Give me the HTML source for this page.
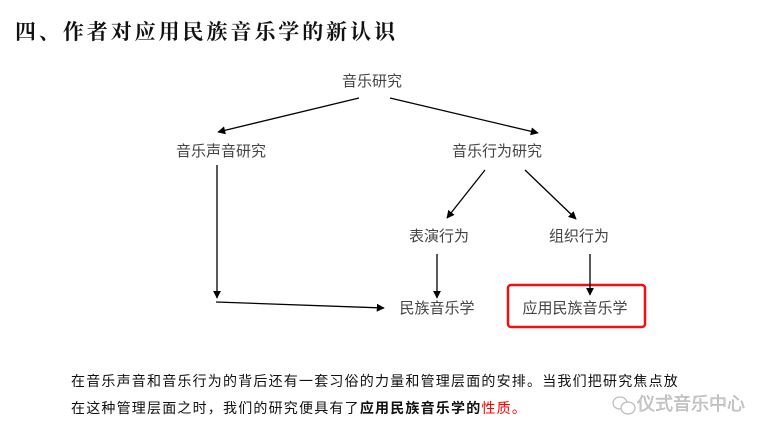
<!DOCTYPE html>
<html><head><meta charset="utf-8"><style>
html,body{margin:0;padding:0;background:#fff;}
svg{display:block;}
text{font-family:"Liberation Sans","Noto Sans CJK SC",sans-serif;}
</style></head><body>
<svg width="773" height="437" viewBox="0 0 773 437" xmlns="http://www.w3.org/2000/svg">
<defs>
<marker id="a" viewBox="0 0 10 10" refX="9" refY="5" markerWidth="8" markerHeight="8" orient="auto" markerUnits="userSpaceOnUse">
<path d="M0,0 L10,5 L0,10 z" fill="#000"/></marker>
</defs>
<text x="15" y="39" font-size="21" font-weight="bold" fill="#111" textLength="380" lengthAdjust="spacing" style="font-family:'Noto Serif CJK SC','Noto Sans CJK SC',serif">四、作者对应用民族音乐学的新认识</text>
<g font-size="15" fill="#444">
<text x="372" y="86" text-anchor="middle">音乐研究</text>
<text x="221" y="156" text-anchor="middle">音乐声音研究</text>
<text x="497" y="156" text-anchor="middle">音乐行为研究</text>
<text x="439" y="241" text-anchor="middle">表演行为</text>
<text x="579" y="241" text-anchor="middle">组织行为</text>
<text x="437" y="313" text-anchor="middle">民族音乐学</text>
<text x="575" y="313" text-anchor="middle">应用民族音乐学</text>
</g>
<rect x="508" y="285" width="137" height="42" rx="3" fill="none" stroke="#f01010" stroke-width="2.5"/>
<g stroke="#000" stroke-width="1.3" fill="none" marker-end="url(#a)">
<line x1="359" y1="98" x2="218" y2="132"/>
<line x1="390" y1="98" x2="538" y2="133"/>
<line x1="485" y1="170" x2="447" y2="218"/>
<line x1="525" y1="170" x2="576" y2="219"/>
<line x1="437" y1="254" x2="437" y2="298"/>
<line x1="590" y1="254" x2="590" y2="295"/>
<line x1="217" y1="165" x2="217" y2="298"/>
<line x1="216" y1="302" x2="384" y2="308"/>
</g>
<g font-size="14" fill="#111" letter-spacing="1.2">
<text x="71" y="386">在音乐声音和音乐行为的背后还有一套习俗的力量和管理层面的安排。当我们把研究焦点放</text>
<text x="71" y="413">在这种管理层面之时，我们的研究便具有了<tspan font-weight="bold">应用民族音乐学的</tspan><tspan fill="#f00">性质。</tspan></text>
</g>
<g stroke="#bbb" fill="none" stroke-width="1.2">
<ellipse cx="620" cy="403" rx="7" ry="6"/>
<ellipse cx="628" cy="408" rx="7" ry="6" fill="#fff"/>
</g>
<text x="637" y="410" font-size="18" fill="#ccc" stroke="#999" stroke-width="0.3">仪式音乐中心</text>
</svg>
</body></html>
